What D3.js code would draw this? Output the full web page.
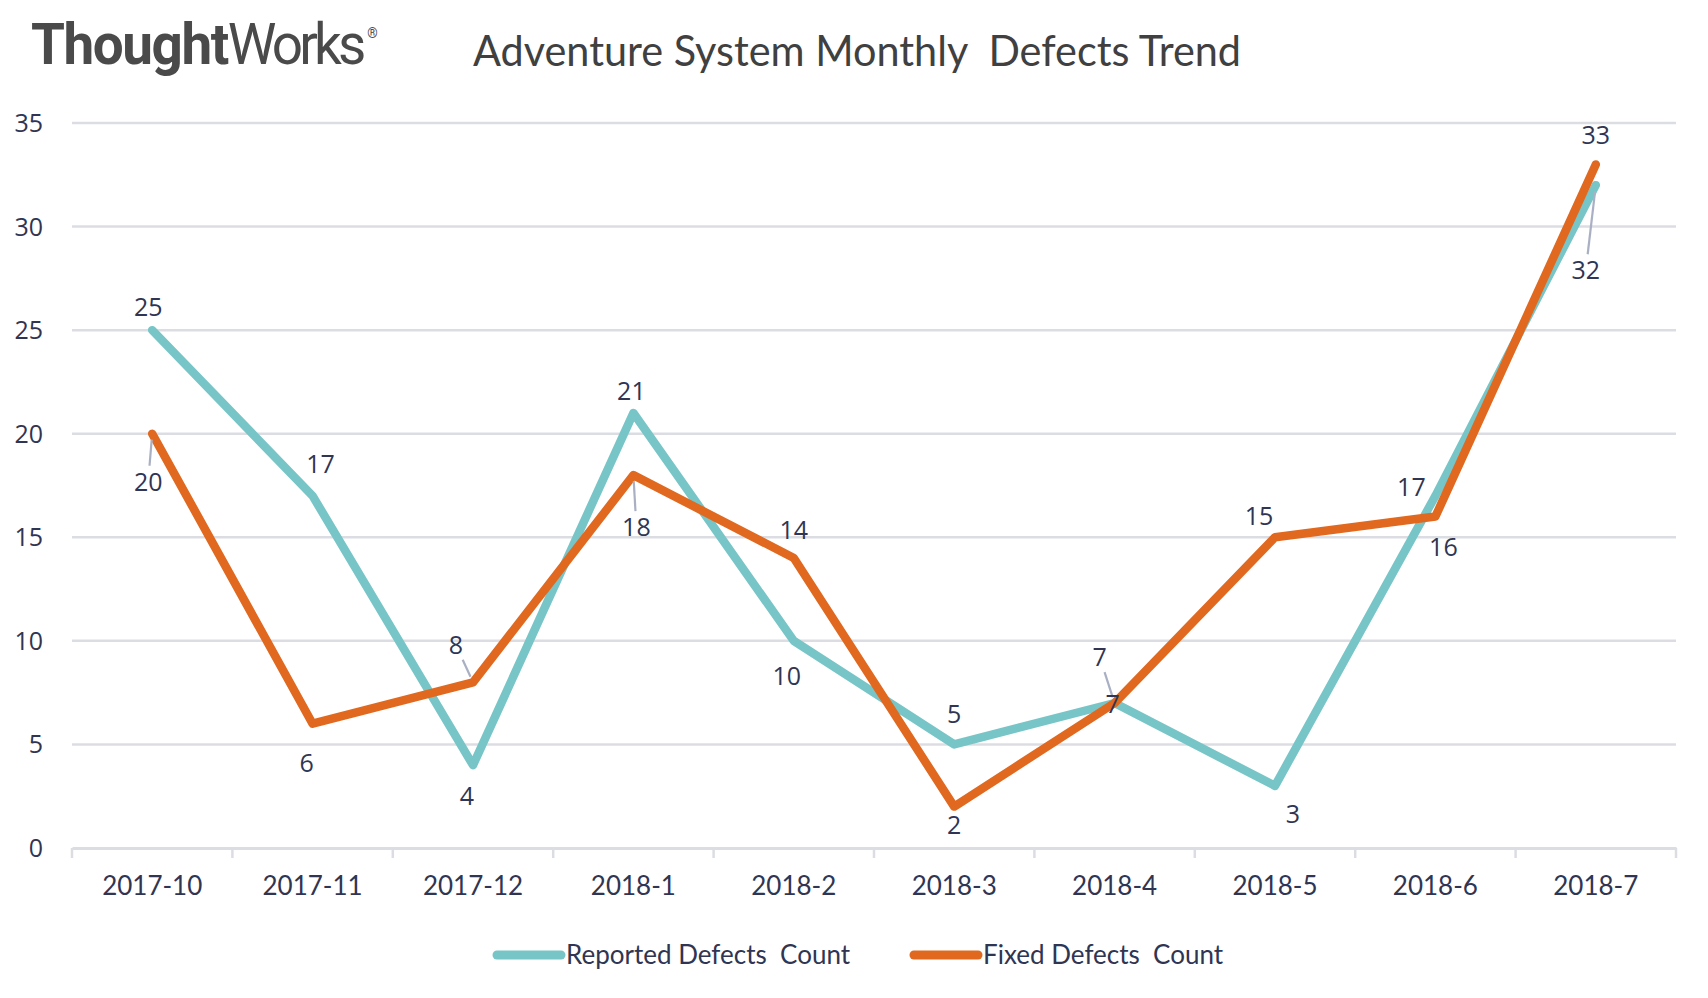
<!DOCTYPE html>
<html>
<head>
<meta charset="utf-8">
<script src="https://cdn.jsdelivr.net/npm/d3@7"></script>
<style>
  body { margin: 0; background: #fff; }
  text { white-space: pre; }
</style>
</head>
<body>
<div id="chart"></div>
<script>
var months = ['2017-10', '2017-11', '2017-12', '2018-1', '2018-2', '2018-3', '2018-4', '2018-5', '2018-6', '2018-7']
var reported = [25, 17, 4, 21, 10, 5, 7, 3, 17, 32]
var fixed = [20, 6, 8, 18, 14, 2, 7, 15, 16, 33]
var yTicks = [0, 5, 10, 15, 20, 25, 30, 35]
var seriesNames = ['Reported Defects  Count', 'Fixed Defects  Count']

// where each value label sits relative to its point (px), and whether it gets a leader line
var reportedLabelPos = [[-4, -23], [8, -32], [-6, 31], [-2, -22], [-7, 35], [0, -30], [-15, -46, 1], [18, 28], [-24, -9], [-10, 85, 1]]
var fixedLabelPos = [[-4, 48, 1], [-6, 39], [-17, -37, 1], [3, 52, 1], [0, -28], [0, 18], [-2, 1], [-16, -21], [8, 30], [0, -29]]

var width = 1708
var height = 998
var margin = { left: 72, right: 32, top: 123, bottom: 150 }

var teal = '#78c5c8'
var orange = '#e0681f'
var textColor = '#2f3552'
var gridColor = '#dcdde3'

var svg = d3.select('#chart').append('svg')
  .attr('width', width).attr('height', height)

var x = d3.scaleBand().domain(months).range([margin.left, width - margin.right])
var y = d3.scaleLinear().domain([0, 35]).range([height - margin.bottom, margin.top])
var cx = (d) => x(d) + x.bandwidth() / 2

// logo + title
var logo = svg.append('g')
  .attr('transform', 'translate(31, 64) scale(0.945, 1)')
  .append('text')
  .attr('fill', '#4a4a4a').attr('font-family', 'Roboto').attr('font-size', 58)
logo.append('tspan').attr('font-weight', 700).attr('letter-spacing', -1.5).text('Thought')
logo.append('tspan').attr('font-weight', 400).attr('letter-spacing', -4).text('Works')
logo.append('tspan').attr('font-size', 14).attr('dx', 5).attr('dy', -26).text('®')

svg.append('text')
  .attr('x', 473).attr('y', 66)
  .attr('font-family', 'Lato').attr('font-size', 42)
  .attr('fill', '#404040')
  .attr('textLength', 768).attr('lengthAdjust', 'spacingAndGlyphs')
  .text('Adventure System Monthly  Defects Trend')

// gridlines
svg.append('g')
  .selectAll('line')
  .data(yTicks.filter((d) => d > 0))
  .enter().append('line')
  .attr('x1', margin.left).attr('x2', width - margin.right)
  .attr('y1', (d) => y(d)).attr('y2', (d) => y(d))
  .attr('stroke', gridColor).attr('stroke-width', 2.5)

// y axis labels
svg.append('g')
  .selectAll('text')
  .data(yTicks)
  .enter().append('text')
  .attr('x', 43).attr('y', (d) => y(d))
  .attr('dy', '0.36em')
  .attr('text-anchor', 'end')
  .attr('font-family', 'Open Sans').attr('font-size', 25)
  .attr('fill', textColor)
  .text((d) => d)

// x axis
var xAxis = svg.append('g')
  .attr('transform', `translate(0, ${y(0)})`)
  .call(d3.axisBottom(x).tickSize(0).tickPadding(29))
xAxis.select('.domain').attr('stroke', gridColor).attr('stroke-width', 3)
xAxis.selectAll('text')
  .attr('font-family', 'Lato').attr('font-size', 26)
  .attr('fill', textColor)
xAxis.selectAll('.sep')
  .data(d3.range(months.length + 1))
  .enter().append('line')
  .attr('class', 'sep')
  .attr('x1', (i) => margin.left + i * x.bandwidth())
  .attr('x2', (i) => margin.left + i * x.bandwidth())
  .attr('y1', 0).attr('y2', 10)
  .attr('stroke', gridColor).attr('stroke-width', 2.5)

// lines
var line = d3.line()
  .x((d, i) => cx(months[i]))
  .y((d) => y(d))

var series = [
  { values: reported, color: teal, labels: reportedLabelPos },
  { values: fixed, color: orange, labels: fixedLabelPos }
]

series.forEach((s) => {
  svg.append('path')
    .datum(s.values)
    .attr('d', line)
    .attr('fill', 'none')
    .attr('stroke', s.color)
    .attr('stroke-width', 8.5)
    .attr('stroke-linejoin', 'round')
    .attr('stroke-linecap', 'round')
})

// value labels with leader lines
series.forEach((s) => {
  var g = svg.append('g')
  s.values.forEach((v, i) => {
    var px = cx(months[i])
    var py = y(v)
    var off = s.labels[i]
    var lx = px + off[0]
    var ly = py + off[1]
    if (off[2]) {
      var dx = lx - px
      var dy = ly - py
      var len = Math.sqrt(dx * dx + dy * dy)
      var start = 6
      var end = len - 16
      g.append('line')
        .attr('x1', px + dx / len * start).attr('y1', py + dy / len * start)
        .attr('x2', px + dx / len * end).attr('y2', py + dy / len * end)
        .attr('stroke', '#a9b0c4').attr('stroke-width', 2.2)
    }
    g.append('text')
      .attr('x', lx).attr('y', ly)
      .attr('dy', '0.36em')
      .attr('text-anchor', 'middle')
      .attr('font-family', 'Open Sans').attr('font-size', 25)
      .attr('fill', textColor)
      .text(v)
  })
})

// legend
var legend = svg.append('g').attr('transform', 'translate(0, 955)')
var legendX = [497, 914]
seriesNames.forEach((name, i) => {
  legend.append('line')
    .attr('x1', legendX[i]).attr('x2', legendX[i] + 64)
    .attr('y1', 0).attr('y2', 0)
    .attr('stroke', series[i].color).attr('stroke-width', 9)
    .attr('stroke-linecap', 'round')
  legend.append('text')
    .attr('x', legendX[i] + 69).attr('y', 0)
    .attr('dy', '0.36em')
    .attr('font-family', 'Lato').attr('font-size', 26)
    .attr('fill', textColor)
    .text(name)
})
</script>
</body>
</html>
